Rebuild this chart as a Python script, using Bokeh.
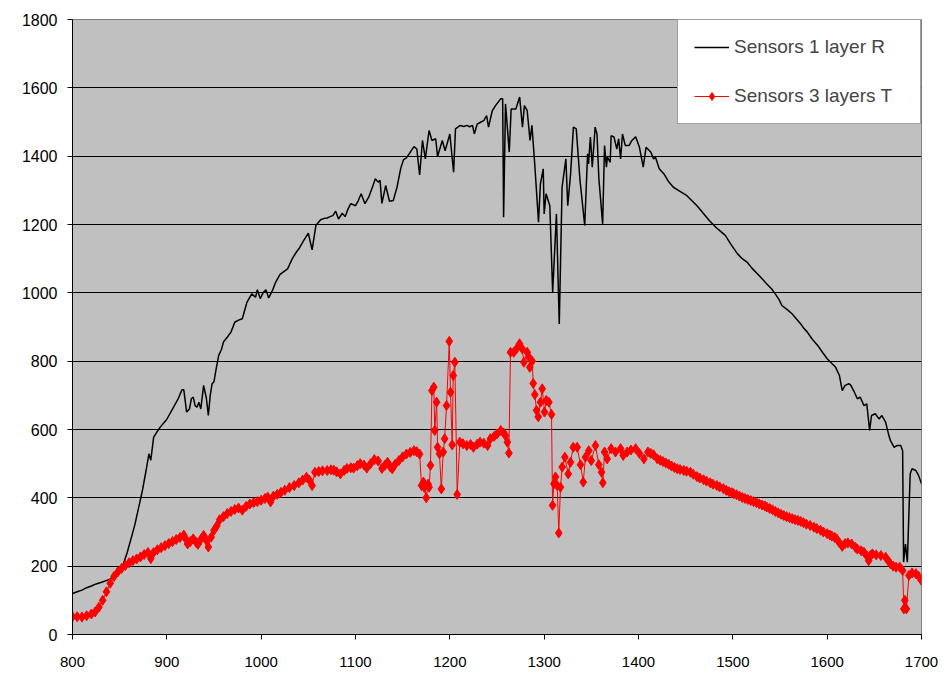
from bokeh.plotting import figure
from bokeh.models import Range1d, FixedTicker, Legend, LegendItem
from bokeh.embed import file_html
from bokeh.resources import INLINE

x_ticks = [800, 900, 1000, 1100, 1200, 1300, 1400, 1500, 1600, 1700]
y_ticks = [0, 200, 400, 600, 800, 1000, 1200, 1400, 1600, 1800]

series_r_label = "Sensors 1 layer R"
series_t_label = "Sensors 3 layers T"

r_nm = [800, 805, 810, 815, 820, 825, 830, 835, 840, 845, 850, 854, 858, 862, 866, 870, 874, 878,
        881, 883, 886, 890, 893, 900, 907, 912, 916, 918, 921, 924, 926, 928, 930, 932, 934, 936,
        939, 942, 944, 946, 948, 950, 952, 955, 958, 960, 964, 968, 972, 976, 980, 985, 990, 994,
        996, 999, 1002, 1005, 1008, 1012, 1015, 1020, 1024, 1028, 1033, 1037, 1040, 1045, 1050,
        1052, 1054, 1058, 1063, 1067, 1070, 1073, 1076, 1079, 1082, 1086, 1089, 1092, 1095, 1100,
        1103, 1106, 1110, 1114, 1118, 1121, 1124, 1126, 1128, 1132, 1136, 1140, 1144, 1148, 1151,
        1154, 1157, 1160, 1162, 1165, 1168, 1171, 1174, 1178, 1181, 1185, 1187, 1192, 1195, 1200,
        1204, 1206, 1211, 1215, 1218, 1221, 1224, 1226, 1229, 1233, 1236, 1239, 1241, 1245, 1249,
        1254, 1256, 1257, 1259, 1263, 1265, 1270, 1274, 1277, 1279, 1282, 1285, 1287, 1290, 1294,
        1296, 1299, 1300, 1302, 1306, 1309, 1313, 1316, 1319, 1323, 1325, 1328, 1331, 1334, 1338,
        1343, 1346, 1347, 1349, 1351, 1354, 1356, 1358, 1362, 1364, 1366, 1367, 1370, 1371, 1374,
        1377, 1379, 1381, 1383, 1386, 1390, 1393, 1397, 1401, 1405, 1408, 1413, 1416, 1418, 1422,
        1427, 1432, 1437, 1444, 1451, 1458, 1462, 1468, 1475, 1482, 1487, 1492, 1498, 1505, 1510,
        1515, 1520, 1526, 1531, 1536, 1541, 1545, 1549, 1552, 1558, 1563, 1567, 1572, 1575, 1579,
        1584, 1590, 1595, 1600, 1605, 1609, 1613, 1616, 1619, 1623, 1625, 1628, 1632, 1635, 1639,
        1642, 1645, 1647, 1651, 1655, 1658, 1662, 1665, 1667, 1671, 1674, 1678, 1680, 1681, 1683,
        1685, 1688, 1690, 1694, 1697, 1700]
r_val = [120, 125, 130, 137, 142, 148, 152, 157, 162, 175, 190, 207, 240, 280, 320, 370, 420, 480,
         529, 510, 577, 595, 607, 630, 665, 690, 716, 716, 651, 660, 690, 695, 670, 665, 680, 660,
         729, 690, 641, 700, 734, 740, 773, 817, 835, 856, 870, 885, 914, 920, 924, 973, 997, 987,
         1009, 983, 1000, 1009, 985, 1007, 1029, 1054, 1062, 1070, 1100, 1118, 1129, 1153, 1175,
         1150, 1126, 1197, 1214, 1218, 1219, 1223, 1226, 1239, 1216, 1233, 1223, 1245, 1261, 1255,
         1270, 1290, 1261, 1280, 1310, 1334, 1324, 1329, 1262, 1314, 1268, 1270, 1309, 1365, 1390,
         1395, 1407, 1420, 1428, 1421, 1345, 1446, 1392, 1475, 1446, 1451, 1399, 1446, 1416, 1465,
         1353, 1480, 1490, 1487, 1490, 1486, 1490, 1465, 1494, 1500, 1504, 1519, 1485, 1533, 1550,
         1568, 1568, 1221, 1553, 1412, 1538, 1538, 1573, 1485, 1548, 1533, 1446, 1490, 1377, 1207,
         1319, 1363, 1231, 1290, 1255, 1002, 1231, 909, 1309, 1392, 1255, 1348, 1485, 1480, 1329,
         1197, 1407, 1377, 1456, 1368, 1485, 1465, 1334, 1202, 1431, 1368, 1397, 1382, 1460, 1456,
         1421, 1451, 1392, 1465, 1431, 1431, 1446, 1457, 1426, 1368, 1426, 1412, 1392, 1397, 1363,
         1348, 1325, 1309, 1297, 1285, 1266, 1255, 1235, 1212, 1192, 1180, 1168, 1142, 1114, 1100,
         1090, 1073, 1056, 1041, 1026, 1012, 997, 980, 963, 950, 938, 925, 909, 897, 885,
         865, 846, 826, 807, 793, 782, 758, 714, 729, 734, 730, 714, 690, 695, 670,
         675, 597, 641, 646, 631, 641, 621, 587, 568, 548, 553, 553, 538, 212, 265,
         212, 470, 485, 480, 465, 441]

t_nm = [800, 805, 810, 815, 820, 824, 828, 832, 836, 840, 844, 848, 852, 856, 860, 864, 868, 872,
        876, 880, 883, 886, 890, 894, 898, 902, 906, 910, 914, 918, 920, 922, 925, 928, 931, 933,
        936, 939, 942, 944, 947, 950, 953, 956, 960, 964, 968, 972, 976, 980, 984, 988, 992, 996,
        1000, 1004, 1007, 1010, 1013, 1017, 1021, 1025, 1030, 1035, 1040, 1044, 1048, 1051, 1054,
        1057, 1061, 1065, 1070, 1074, 1077, 1080, 1084, 1088, 1091, 1095, 1098, 1102, 1105, 1109,
        1112, 1116, 1120, 1124, 1128, 1131, 1134, 1137, 1139, 1142, 1146, 1150, 1154, 1158, 1162,
        1165, 1168, 1170, 1172, 1173, 1175, 1177, 1178, 1179.5, 1181, 1183, 1184, 1186, 1187, 1189,
        1191, 1193, 1194.5, 1196.5, 1199.4, 1200.7, 1202.5, 1203.6, 1205.3, 1207.8, 1210.6, 1214,
        1218, 1222, 1225, 1229, 1232, 1236, 1240, 1243, 1247, 1250, 1254, 1257, 1259, 1261, 1262.6,
        1264.3, 1267.8, 1270.7, 1273.9, 1276.7, 1278.5, 1282, 1283.8, 1284.8, 1287.3, 1288.4,
        1290.1, 1291.9, 1293.7, 1296.1, 1297.9, 1300.4, 1302.2, 1305, 1307.8, 1308.9, 1310.3, 1312,
        1313.8, 1315.5, 1317.3, 1319.1, 1321.9, 1325.5, 1327.9, 1330.8, 1335, 1338.5, 1341.4,
        1343.8, 1347.3, 1349.9, 1354.4, 1357.9, 1360.8, 1362.2, 1364, 1366.8, 1371, 1375.6, 1381,
        1383.8, 1388, 1392, 1397, 1401, 1405.7, 1410, 1413, 1416, 1420, 1423, 1426, 1429, 1432,
        1435, 1438, 1441, 1444, 1448, 1451, 1455, 1458, 1462, 1465, 1469, 1472, 1476, 1479, 1483,
        1486, 1490, 1493, 1496, 1499, 1501, 1504, 1507, 1510, 1513, 1516, 1519, 1522, 1525, 1528,
        1531, 1534, 1536, 1539, 1542, 1545, 1548, 1551, 1554, 1557, 1560, 1563, 1566, 1569, 1572,
        1575, 1578, 1582, 1586, 1589, 1593, 1596, 1600, 1603, 1605, 1608, 1610, 1613, 1616, 1619,
        1622, 1626, 1630, 1632, 1636, 1639, 1642, 1644, 1646, 1648, 1652, 1657, 1662, 1665, 1667,
        1670, 1673, 1677, 1680, 1681.3, 1682.3, 1684, 1686.7, 1690, 1694, 1697, 1700]
t_val = [52, 52, 51, 55, 60, 66, 80, 100, 125, 150, 170, 183, 193, 202, 210, 216, 221, 227,
         234, 240, 222, 240, 248, 254, 260, 266, 272, 278, 284, 291, 280, 265, 272, 280, 270, 264,
         278, 290, 275, 256, 285, 305, 318, 336, 345, 354, 360, 366, 370, 364, 375, 382, 386, 389,
         393, 398, 402, 388, 405, 410, 416, 422, 430, 436, 444, 452, 460, 452, 436,
         475, 477, 479, 480, 482, 481, 476, 470, 480, 486, 488, 487, 494, 500, 496,
         487, 500, 512, 508, 486, 495, 504, 490, 485, 498, 509, 520, 528, 533, 538,
         535, 528, 436, 446, 430, 400, 440, 431, 495, 714, 724, 597, 680, 548, 529,
         426, 534, 573, 670, 858, 709, 555, 758, 797, 410, 563, 558,
         553, 556, 548, 557, 563, 560, 553, 573, 580, 587, 597, 590, 582, 563, 531,
         826, 826, 836, 851, 836, 797, 826, 812, 782, 800, 735,
         702, 656, 637, 680, 719, 651, 685, 680, 644, 378, 441, 461,
         436, 297, 431, 490, 519, 470, 504, 548, 548, 497, 446,
         519, 538, 509, 553, 497, 475, 444, 534, 514, 544, 534, 544,
         524, 534, 540, 544, 530, 514, 534, 530, 526, 514, 510, 506, 502, 498,
         493, 489, 485, 483, 480, 478, 475, 469, 462, 458, 453, 449, 444, 440, 436,
         432, 427, 422, 418, 415, 412, 409, 405, 401, 398, 395, 392, 389, 386, 382,
         379, 376, 373, 369, 365, 360, 356, 352, 348, 345, 342, 339, 336, 334, 331,
         327, 323, 319, 314, 310, 305, 300, 295, 291, 288, 284, 280, 268, 258, 266,
         268, 265, 255, 250, 245, 241, 230, 216, 232, 236, 233, 231, 226, 215, 207,
         200, 197, 197, 187, 75, 100, 75, 173, 180, 178, 170, 158]

FONT = "Liberation Sans"

p = figure(frame_width=849, frame_height=615, output_backend="svg", toolbar_location=None,
           x_range=Range1d(800, 1700), y_range=Range1d(0, 1800),
           min_border_left=72, min_border_right=19, min_border_top=19, min_border_bottom=40)

p.background_fill_color = "#C0C0C0"
p.border_fill_color = "white"
p.outline_line_color = "#808080"

p.xgrid.visible = False
p.ygrid.ticker = FixedTicker(ticks=y_ticks)
p.ygrid.grid_line_color = "black"
p.ygrid.grid_line_width = 1

p.xaxis.ticker = FixedTicker(ticks=x_ticks)
p.yaxis.ticker = FixedTicker(ticks=y_ticks)
for ax in (p.xaxis, p.yaxis):
    ax.axis_line_color = "black"
    ax.major_tick_line_color = "black"
    ax.major_tick_out = 5
    ax.major_tick_in = 0
    ax.minor_tick_line_color = None
    ax.major_label_text_font = FONT
    ax.major_label_text_color = "black"
p.yaxis.major_label_text_font_size = "16px"
p.xaxis.major_label_text_font_size = "15px"
p.yaxis.major_label_standoff = 10
p.xaxis.major_label_standoff = 17

lr = p.line(r_nm, r_val, line_color="black", line_width=1.5)
tl = p.line(t_nm, t_val, line_color="red", line_width=1)
ts = p.scatter(t_nm, t_val, marker="diamond", size=10,
               fill_color="red", line_color="red", line_width=1)

legend = Legend(items=[LegendItem(label=series_r_label, renderers=[lr]),
                       LegendItem(label=series_t_label, renderers=[tl, ts])],
                location="top_right", margin=0, padding=16, spacing=27,
                glyph_width=35, glyph_height=20, label_height=20, label_width=170,
                label_standoff=5, label_text_font=FONT, label_text_font_size="19px",
                border_line_color="#404040", border_line_width=1,
                background_fill_color="white", background_fill_alpha=1)
p.add_layout(legend)

open("out.html", "w").write(file_html(p, INLINE))
